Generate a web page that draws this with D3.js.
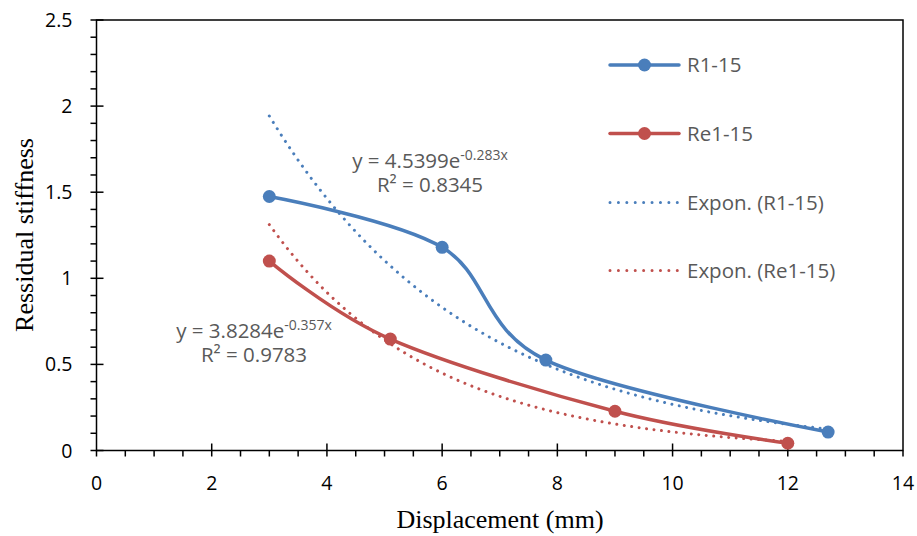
<!DOCTYPE html>
<html>
<head>
<meta charset="utf-8">
<script src="https://cdn.jsdelivr.net/npm/d3@7"></script>
<style>
  body { margin: 0; background: #fff; }
  svg { display: block; }
</style>
</head>
<body>
<div id="chart"></div>
<script>
// measured series
const r1X = [3, 6, 7.8, 12.7]
const r1Y = [1.475, 1.18, 0.525, 0.107]
const re1X = [3, 5.1, 9, 12]
const re1Y = [1.1, 0.647, 0.228, 0.042]

// exponential trendlines as printed on the chart: y = a * e^(b x)
const trendR1 = { a: 4.5399, b: -0.283, r2: '0.8345' }
const trendRe1 = { a: 3.8284, b: -0.357, r2: '0.9783' }

const xTicks = [0, 2, 4, 6, 8, 10, 12, 14]
const yTicks = [0, 0.5, 1, 1.5, 2, 2.5]
const legendLabels = ['R1-15', 'Re1-15', 'Expon. (R1-15)', 'Expon. (Re1-15)']

const W = 917, H = 536
const blue = '#4a7ebb', red = '#c0504d', textGrey = '#595959'
const sans = '"Open Sans", "Noto Sans", sans-serif'
const serif = '"Liberation Serif", "Times New Roman", serif'

const x = d3.scaleLinear().domain([0, 14]).range([96.5, 903])
const y = d3.scaleLinear().domain([0, 2.5]).range([450.5, 20])

const svg = d3.select('#chart').append('svg')
    .attr('width', W).attr('height', H)
    .attr('viewBox', `0 0 ${W} ${H}`)

// plot box
svg.append('rect')
    .attr('x', x(0)).attr('y', y(2.5))
    .attr('width', x(14) - x(0)).attr('height', y(0) - y(2.5))
    .attr('fill', 'none').attr('stroke', '#000').attr('stroke-width', 1.5)

// y axis: major ticks cross, minor ticks outside
const yMinor = d3.range(0, 2.5001, 0.1)
svg.append('g').selectAll('line').data(yMinor).join('line')
    .attr('x1', x(0) - 6).attr('x2', d => Math.abs(d * 2 - Math.round(d * 2)) < 1e-6 ? x(0) + 7 : x(0))
    .attr('y1', d => y(d)).attr('y2', d => y(d))
    .attr('stroke', '#000').attr('stroke-width', 1.5)

svg.append('g').selectAll('text').data(yTicks).join('text')
    .attr('x', x(0) - 24).attr('y', d => y(d) + 7)
    .attr('text-anchor', 'end')
    .attr('font-family', sans).attr('font-size', 19.5).attr('fill', '#000')
    .text(d => d)

// x axis
const xMinor = d3.range(0, 14.001, 0.5)
svg.append('g').selectAll('line').data(xMinor).join('line')
    .attr('x1', d => x(d)).attr('x2', d => x(d))
    .attr('y1', d => (d % 2 === 0 && d > 0 && d < 14) ? y(0) - 7 : y(0))
    .attr('y2', y(0) + 6)
    .attr('stroke', '#000').attr('stroke-width', 1.5)

svg.append('g').selectAll('text').data(xTicks).join('text')
    .attr('x', d => x(d)).attr('y', 490)
    .attr('text-anchor', 'middle')
    .attr('font-family', sans).attr('font-size', 19.5).attr('fill', '#000')
    .text(d => d)

// axis titles
svg.append('text')
    .attr('x', 500).attr('y', 528)
    .attr('text-anchor', 'middle')
    .attr('font-family', serif).attr('font-size', 26)
    .text('Displacement (mm)')

svg.append('text')
    .attr('transform', 'translate(33,235) rotate(-90)')
    .attr('text-anchor', 'middle')
    .attr('font-family', serif).attr('font-size', 26)
    .text('Ressidual stiffness')

// trendlines
function trendPoints(t, x0, x1) {
    return d3.range(x0, x1 + 1e-9, (x1 - x0) / 80).map(v => [v, t.a * Math.exp(t.b * v)])
}
const trendLine = d3.line().x(d => x(d[0])).y(d => y(d[1]))

const dotted = { width: 3, dash: '0.01 7.5' }
svg.append('path')
    .attr('d', trendLine(trendPoints(trendR1, d3.min(r1X), d3.max(r1X))))
    .attr('fill', 'none').attr('stroke', blue)
    .attr('stroke-width', dotted.width).attr('stroke-linecap', 'round')
    .attr('stroke-dasharray', dotted.dash)
svg.append('path')
    .attr('d', trendLine(trendPoints(trendRe1, d3.min(re1X), d3.max(re1X))))
    .attr('fill', 'none').attr('stroke', red)
    .attr('stroke-width', dotted.width).attr('stroke-linecap', 'round')
    .attr('stroke-dasharray', dotted.dash)

// series
const smooth = d3.line().x(d => x(d[0])).y(d => y(d[1])).curve(d3.curveCardinal.tension(0))
const series = [
    { xs: r1X, ys: r1Y, color: blue },
    { xs: re1X, ys: re1Y, color: red }
]
series.forEach(s => {
    const pts = s.xs.map((v, i) => [v, s.ys[i]])
    svg.append('path')
        .attr('d', smooth(pts))
        .attr('fill', 'none').attr('stroke', s.color)
        .attr('stroke-width', 3.5).attr('stroke-linecap', 'round')
    svg.append('g').selectAll('circle').data(pts).join('circle')
        .attr('cx', d => x(d[0])).attr('cy', d => y(d[1]))
        .attr('r', 6.5).attr('fill', s.color)
})

// equation labels
function equation(t, cx, cy) {
    const g = svg.append('g').attr('font-family', sans).attr('fill', textGrey).attr('font-size', 20.5)
    const eq = g.append('text').attr('x', cx).attr('y', cy).attr('text-anchor', 'middle')
    eq.append('tspan').text('y = ' + t.a.toFixed(4) + 'e')
    eq.append('tspan').attr('font-size', 14).attr('dy', -8.5).text(t.b.toFixed(3) + 'x')
    g.append('text').attr('x', cx).attr('y', cy + 24).attr('text-anchor', 'middle')
        .text('R² = ' + t.r2)
}
equation(trendR1, 430, 168)
equation(trendRe1, 254, 338)

// legend
const legend = svg.append('g')
const rowsY = [65, 133.5, 202.5, 270.5]
legendLabels.forEach((label, i) => {
    const color = i % 2 === 0 ? blue : red
    const ly = rowsY[i]
    const line = legend.append('line')
        .attr('x1', 610).attr('x2', 679).attr('y1', ly).attr('y2', ly)
        .attr('stroke', color)
    if (i < 2) {
        line.attr('stroke-width', 3.5).attr('stroke-linecap', 'round')
        legend.append('circle').attr('cx', 644.5).attr('cy', ly).attr('r', 6.5).attr('fill', color)
    } else {
        line.attr('stroke-width', dotted.width).attr('stroke-linecap', 'round').attr('stroke-dasharray', '0.01 8.4')
    }
    legend.append('text')
        .attr('x', 687).attr('y', ly + 7)
        .attr('font-family', sans).attr('font-size', 20.5).attr('fill', textGrey)
        .text(label)
})
</script>
</body>
</html>
